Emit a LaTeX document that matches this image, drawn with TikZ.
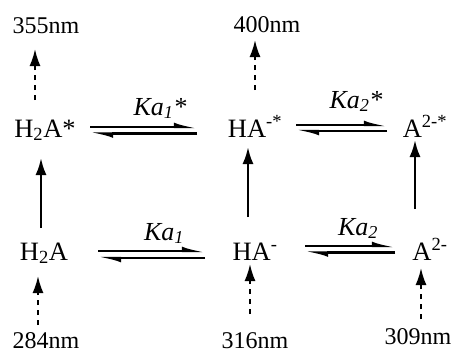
\documentclass[tikz,border=0pt]{standalone}
\usepackage{fontspec}
\setmainfont{Liberation Serif}
\usetikzlibrary{arrows.meta}
\tikzset{
  x=1pt, y=-1pt,
  lbl/.style={font=\fontsize{24}{28}\selectfont, inner sep=0pt, anchor=base},
  spc/.style={font=\fontsize{26.5}{30}\selectfont, inner sep=0pt, anchor=base},
  klbl/.style={font=\fontsize{26}{30}\selectfont\itshape, inner sep=0pt, anchor=base},
  up/.style={line width=2.4pt, -{Latex[length=17pt,width=11pt]}},
  dup/.style={line width=2pt, dash pattern=on 5pt off 5pt, -{Latex[length=17pt,width=11pt]}},
  harp/.style={line width=2.2pt, -{Latex[left,length=17pt,width=9pt]}},
}
\newcommand{\supr}[1]{\textsuperscript{#1}}
\newcommand{\subr}[1]{\textsubscript{#1}}
\begin{document}
\begin{tikzpicture}
\useasboundingbox (0,0) rectangle (451,354);
% labels
\node[lbl] (n355) at (46,33) {355nm};
\node[lbl] (n400) at (267,32) {400nm};
\node[lbl] (n284) at (46,348) {284nm};
\node[lbl] (n316) at (255,348) {316nm};
\node[lbl] (n309) at (418,344) {309nm};
% species
\node[spc] (H2As) at (45,137) {H\subr{2}A*};
\node[spc] (HAs) at (255,137) {HA\supr{-*}};
\node[spc] (A2s) at (425,137) {A\supr{2-*}};
\node[spc] (H2A) at (44,260) {H\subr{2}A};
\node[spc] (HA) at (255,260) {HA\supr{-}};
\node[spc] (A2) at (430,260) {A\supr{2-}};
% constants
\node[klbl] (k1s) at (160,115) {Ka\subr{\textit{1}}*};
\node[klbl] (k2s) at (356,108) {Ka\subr{\textit{2}}*};
\node[klbl] (k1) at (164,240) {Ka\subr{\textit{1}}};
\node[klbl] (k2) at (358,235) {Ka\subr{\textit{2}}};
% equilibrium end points
\coordinate (a1) at (90,127); \coordinate (a2) at (197,127);
\coordinate (a3) at (197,133.5); \coordinate (a4) at (90,133.5);
\coordinate (b1) at (296,125); \coordinate (b2) at (387,125);
\coordinate (b3) at (387,131); \coordinate (b4) at (296,131);
\coordinate (c1) at (98,251); \coordinate (c2) at (205,251);
\coordinate (c3) at (205,258); \coordinate (c4) at (98,258);
\coordinate (d1) at (305,246); \coordinate (d2) at (395,246);
\coordinate (d3) at (395,252.5); \coordinate (d4) at (305,252.5);
\draw[harp] (a1) -- (a2); \draw[harp] (a3) -- (a4);
\draw[harp] (b1) -- (b2); \draw[harp] (b3) -- (b4);
\draw[harp] (c1) -- (c2); \draw[harp] (c3) -- (c4);
\draw[harp] (d1) -- (d2); \draw[harp] (d3) -- (d4);
% vertical solid arrows
\coordinate (s1a) at (41,228); \coordinate (s1b) at (41,158);
\coordinate (s2a) at (248,217); \coordinate (s2b) at (248,147);
\coordinate (s3a) at (415,209); \coordinate (s3b) at (415,140);
\draw[up] (s1a) -- (s1b);
\draw[up] (s2a) -- (s2b);
\draw[up] (s3a) -- (s3b);
% dashed arrows
\coordinate (t1a) at (35,100); \coordinate (t1b) at (35,49);
\coordinate (t2a) at (255,90); \coordinate (t2b) at (255,40);
\coordinate (u1a) at (38,325); \coordinate (u1b) at (38,276);
\coordinate (u2a) at (250,314); \coordinate (u2b) at (250,264);
\coordinate (u3a) at (421,319); \coordinate (u3b) at (421,268);
\draw[dup] (t1a) -- (t1b);
\draw[dup] (t2a) -- (t2b);
\draw[dup] (u1a) -- (u1b);
\draw[dup] (u2a) -- (u2b);
\draw[dup] (u3a) -- (u3b);
\end{tikzpicture}
\end{document}
